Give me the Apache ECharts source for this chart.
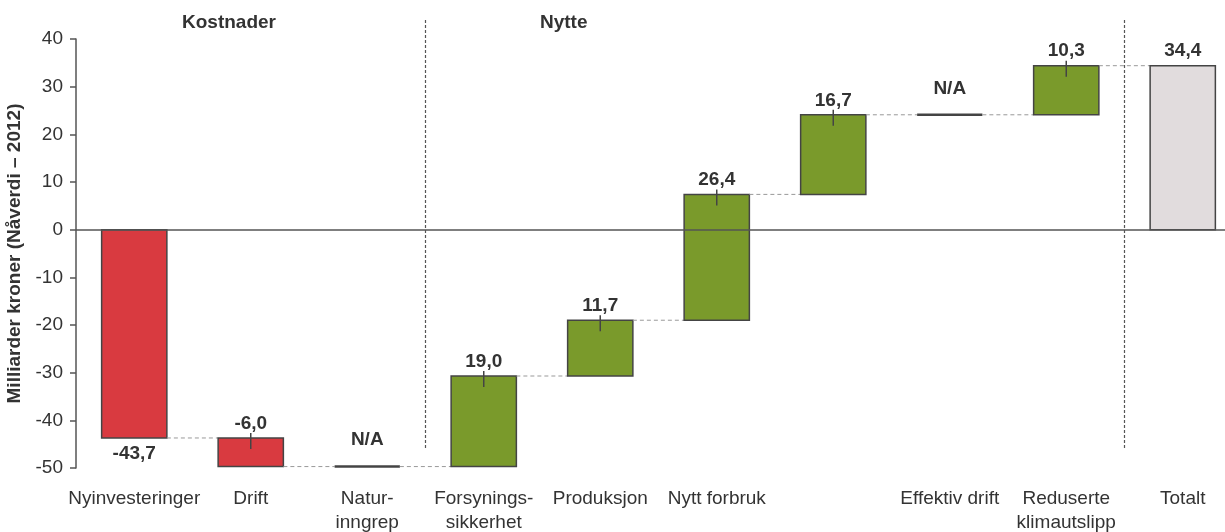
<!DOCTYPE html>
<html><head><meta charset="utf-8">
<script src="https://cdn.jsdelivr.net/npm/echarts@6/dist/echarts.min.js"></script>
<style>html,body{margin:0;padding:0;background:#fff}#c{width:1225px;height:532px}</style>
</head><body><div id="c"></div>
<script>
// ---- data ----
const categories = ['Nyinvesteringer','Drift','Natur-\ninngrep','Forsynings-\nsikkerhet','Produksjon','Nytt forbruk','','Effektiv drift','Reduserte\nklimautslipp','Totalt'];
const changes = [-43.7, -6.0, null, 19.0, 11.7, 26.4, 16.7, null, 10.3, null];
const kinds = ['cost','cost','na','benefit','benefit','benefit','benefit','na','benefit','total'];
const valueLabels = ['-43,7','-6,0','N/A','19,0','11,7','26,4','16,7','N/A','10,3','34,4'];
const groupTitles = ['Kostnader','Nytte'];
const yAxisName = 'Milliarder kroner (Nåverdi \u2013 2012)';
const yMin = -50, yMax = 40, yInterval = 10;
const separatorAfter = [2, 8];
const sepTop = 44, sepBottom = -46;

// ---- derived waterfall rows ----
const rows = [];
let running = 0;
for (let i = 0; i < categories.length; i++) {
  const k = kinds[i];
  if (k === 'total') rows.push({start: 0, end: running, kind: k});
  else if (k === 'na') rows.push({start: running, end: running, kind: k});
  else { const s = running; running = Math.round((running + changes[i]) * 10) / 10; rows.push({start: s, end: running, kind: k}); }
}
const colors = {cost: '#d93a40', benefit: '#7a9a2b', total: '#e1dcdd'};
const FONT = '"Liberation Sans", Arial, Helvetica, sans-serif';
const boldFont = 'bold 19px ' + FONT;

function renderItem(params, api) {
  const i = params.dataIndex;
  const r = rows[i];
  const c0 = api.coord([i, r.start]);
  const c1 = api.coord([i, r.end]);
  const bw = api.size([1, 0])[0] * 0.56;
  const cx = c0[0];
  const yTop = Math.min(c0[1], c1[1]), yBot = Math.max(c0[1], c1[1]);
  const children = [];
  const txt = valueLabels[i];
  if (r.kind === 'na') {
    children.push({type: 'line', shape: {x1: cx - bw / 2, y1: c0[1], x2: cx + bw / 2, y2: c0[1]}, style: {stroke: '#444', lineWidth: 2.5}});
    children.push({type: 'text', style: {text: txt, x: cx, y: c0[1] - 17, align: 'center', verticalAlign: 'bottom', font: boldFont, fill: '#333'}});
  } else {
    children.push({type: 'rect', shape: {x: cx - bw / 2, y: yTop, width: bw, height: yBot - yTop}, style: {fill: colors[r.kind], stroke: '#444', lineWidth: 1.5}});
    const below = r.kind !== 'total' && r.start === 0 && r.end < 0;
    if (below) {
      children.push({type: 'text', style: {text: txt, x: cx, y: yBot + 6, align: 'center', verticalAlign: 'top', font: boldFont, fill: '#333'}});
    } else {
      if (r.kind !== 'total') {
        children.push({type: 'line', shape: {x1: cx, y1: yTop - 5, x2: cx, y2: yTop + 11}, style: {stroke: '#444', lineWidth: 1.5}});
      }
      children.push({type: 'text', style: {text: txt, x: cx, y: yTop - 5, align: 'center', verticalAlign: 'bottom', font: boldFont, fill: '#333'}});
    }
  }
  if (i < rows.length - 1) {
    const n = api.coord([i + 1, r.end]);
    children.push({type: 'line', shape: {x1: cx + bw / 2, y1: n[1], x2: n[0] - bw / 2, y2: n[1]}, style: {stroke: '#999', lineWidth: 1, lineDash: [4, 3]}});
  }
  if (separatorAfter.indexOf(i) >= 0) {
    const a = api.coord([i, sepTop]);
    const b = api.coord([i + 1, sepBottom]);
    const sx = (a[0] + b[0]) / 2;
    children.push({type: 'line', shape: {x1: sx, y1: a[1], x2: sx, y2: b[1]}, style: {stroke: '#555', lineWidth: 1.2, lineDash: [3, 2]}});
  }
  return {type: 'group', children};
}

const chart = echarts.init(document.getElementById('c'), null, {renderer: 'canvas'});
chart.setOption({
  animation: false,
  backgroundColor: '#fff',
  textStyle: {fontFamily: FONT},
  title: [
    {text: groupTitles[0], left: 177, top: 8, textStyle: {fontSize: 19, fontWeight: 'bold', color: '#333', fontFamily: FONT}},
    {text: groupTitles[1], left: 535, top: 8, textStyle: {fontSize: 19, fontWeight: 'bold', color: '#333', fontFamily: FONT}}
  ],
  grid: {left: 76, right: -16, top: 39, bottom: 64, containLabel: false, outerBoundsMode: 'none'},
  xAxis: {
    type: 'category', data: categories,
    axisLine: {show: false}, axisTick: {show: false},
    axisLabel: {interval: 0, fontSize: 19, color: '#333', margin: 19, lineHeight: 24, fontFamily: FONT}
  },
  yAxis: {
    type: 'value', min: yMin, max: yMax, interval: yInterval,
    name: yAxisName, nameLocation: 'middle', nameGap: 48,
    nameTextStyle: {fontSize: 19, fontWeight: 'bold', color: '#333', fontFamily: FONT},
    axisLine: {show: true, lineStyle: {color: '#555', width: 1.5}},
    axisTick: {show: true, length: 6, lineStyle: {color: '#555', width: 1.5}},
    axisLabel: {fontSize: 19, color: '#333', margin: 13, fontFamily: FONT},
    splitLine: {show: false}
  },
  series: [{
    type: 'custom',
    renderItem: renderItem,
    clip: false,
    encode: {x: 0, y: [1, 2]},
    data: rows.map((r, i) => [i, r.start, r.end]),
    markLine: {
      silent: true, symbol: 'none', label: {show: false},
      lineStyle: {color: '#555', width: 1.5, type: 'solid'},
      data: [{yAxis: 0}]
    },
    z: 3
  }]
});
</script></body></html>
